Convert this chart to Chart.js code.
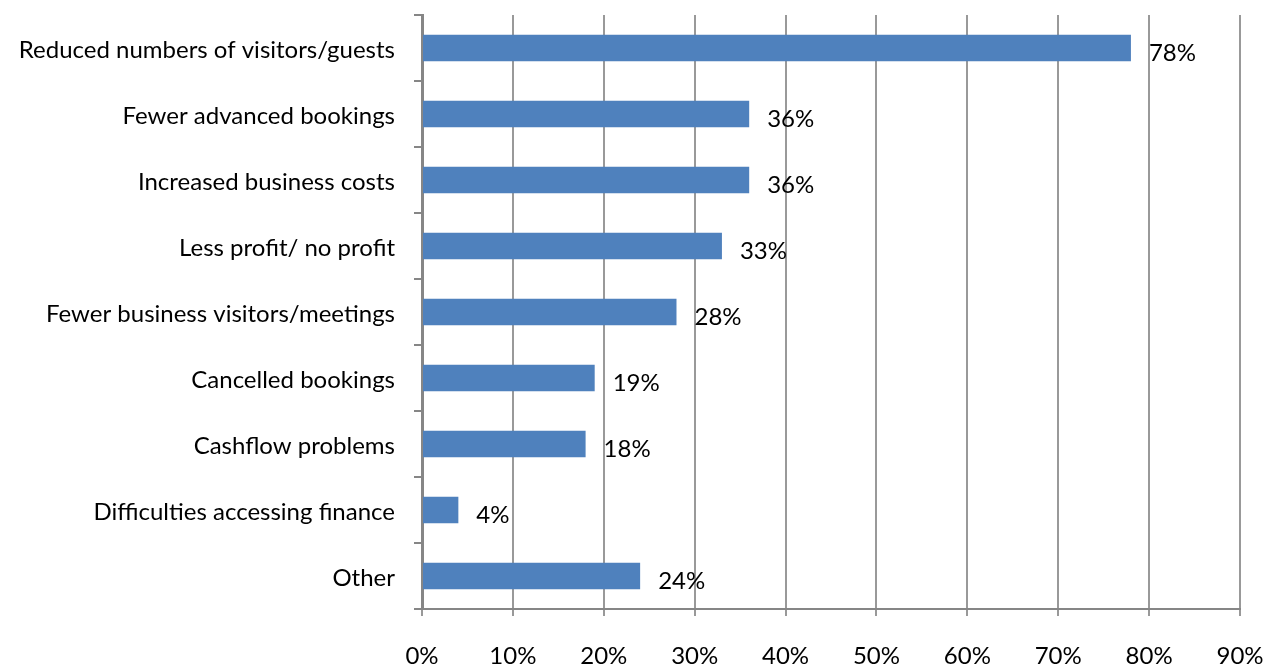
<!DOCTYPE html>
<html>
<head>
<meta charset="utf-8">
<script src="https://cdn.jsdelivr.net/npm/chart.js@4"></script>
<style>
  html, body { margin: 0; padding: 0; background: #fff; }
  #wrap { width: 1277px; height: 664px; }
</style>
</head>
<body>
<div id="wrap"><canvas id="chart"></canvas></div>
<script>
// chart data
const categories = [
  'Reduced numbers of visitors/guests',
  'Fewer advanced bookings',
  'Increased business costs',
  'Less profit/ no profit',
  'Fewer business visitors/meetings',
  'Cancelled bookings',
  'Cashflow problems',
  'Difficulties accessing finance',
  'Other'
];
const values = [78, 36, 36, 33, 28, 19, 18, 4, 24];
const xMax = 90;
const xStep = 10;

const fontFamily = 'Lato, "Open Sans", sans-serif';
const fontSize = 24;

// draw the % labels next to each bar
const barLabels = {
  id: 'barLabels',
  afterDatasetsDraw(chart) {
    const ctx = chart.ctx;
    const meta = chart.getDatasetMeta(0);
    ctx.save();
    ctx.font = fontSize + 'px ' + fontFamily;
    ctx.fillStyle = '#000';
    ctx.textAlign = 'left';
    ctx.textBaseline = 'middle';
    meta.data.forEach((bar, i) => {
      ctx.fillText(values[i] + '%', bar.x + 18, bar.y + 5);
    });
    ctx.restore();
  }
};

new Chart(document.getElementById('chart'), {
  type: 'bar',
  data: {
    labels: categories,
    datasets: [{
      data: values,
      backgroundColor: '#4F81BD',
      borderWidth: 0,
      categoryPercentage: 1,
      barPercentage: 0.4
    }]
  },
  options: {
    indexAxis: 'y',
    responsive: true,
    maintainAspectRatio: false,
    animation: false,
    layout: { padding: { top: 15, right: 37, left: 0, bottom: 0 } },
    plugins: {
      legend: { display: false },
      tooltip: { enabled: false }
    },
    scales: {
      x: {
        min: 0,
        max: xMax,
        ticks: {
          stepSize: xStep,
          padding: 26,
          color: '#000',
          font: { family: fontFamily, size: fontSize },
          callback: v => v + '%'
        },
        grid: {
          color: '#999999',
          lineWidth: 2,
          tickLength: 7,
          drawTicks: true
        },
        border: { color: '#868686', width: 2 },
        afterFit(scale) {
          scale.height = 55;
          scale.paddingLeft = 0;
          scale.paddingRight = 0;
        }
      },
      y: {
        ticks: {
          padding: 19,
          labelOffset: 2,
          color: '#000',
          font: { family: fontFamily, size: fontSize }
        },
        grid: {
          offset: true,
          drawOnChartArea: false,
          tickLength: 8,
          color: '#868686',
          lineWidth: 2
        },
        border: { color: '#868686', width: 3 },
        afterFit(scale) {
          scale.width = 422;
          scale.paddingTop = 0;
          scale.paddingBottom = 0;
        }
      }
    }
  },
  plugins: [barLabels]
});
</script>
</body>
</html>
